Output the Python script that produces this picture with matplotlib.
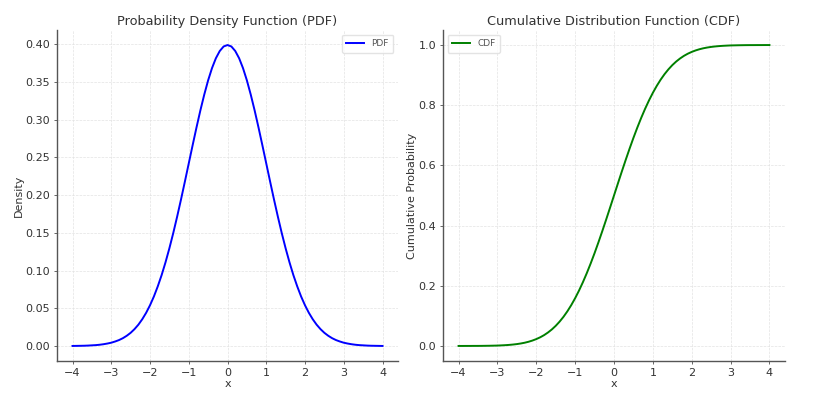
import matplotlib
matplotlib.use("Agg")
import matplotlib.pyplot as plt

x_values = [-4.0, -3.9, -3.8, -3.7, -3.6, -3.5, -3.4, -3.3, -3.2, -3.1,
            -3.0, -2.9, -2.8, -2.7, -2.6, -2.5, -2.4, -2.3, -2.2, -2.1,
            -2.0, -1.9, -1.8, -1.7, -1.6, -1.5, -1.4, -1.3, -1.2, -1.1,
            -1.0, -0.9, -0.8, -0.7, -0.6, -0.5, -0.4, -0.3, -0.2, -0.1,
            0.0, 0.1, 0.2, 0.3, 0.4, 0.5, 0.6, 0.7, 0.8, 0.9,
            1.0, 1.1, 1.2, 1.3, 1.4, 1.5, 1.6, 1.7, 1.8, 1.9,
            2.0, 2.1, 2.2, 2.3, 2.4, 2.5, 2.6, 2.7, 2.8, 2.9,
            3.0, 3.1, 3.2, 3.3, 3.4, 3.5, 3.6, 3.7, 3.8, 3.9, 4.0]

pdf_values = [0.0001, 0.0002, 0.0003, 0.0004, 0.0006, 0.0009, 0.0012, 0.0017, 0.0024, 0.0033,
              0.0044, 0.0060, 0.0079, 0.0104, 0.0136, 0.0175, 0.0224, 0.0283, 0.0355, 0.0440,
              0.0540, 0.0656, 0.0790, 0.0940, 0.1109, 0.1295, 0.1497, 0.1714, 0.1942, 0.2179,
              0.2420, 0.2661, 0.2897, 0.3123, 0.3332, 0.3521, 0.3683, 0.3814, 0.3910, 0.3970,
              0.3989, 0.3970, 0.3910, 0.3814, 0.3683, 0.3521, 0.3332, 0.3123, 0.2897, 0.2661,
              0.2420, 0.2179, 0.1942, 0.1714, 0.1497, 0.1295, 0.1109, 0.0940, 0.0790, 0.0656,
              0.0540, 0.0440, 0.0355, 0.0283, 0.0224, 0.0175, 0.0136, 0.0104, 0.0079, 0.0060,
              0.0044, 0.0033, 0.0024, 0.0017, 0.0012, 0.0009, 0.0006, 0.0004, 0.0003, 0.0002, 0.0001]

cdf_values = [0.0000, 0.0000, 0.0001, 0.0001, 0.0002, 0.0002, 0.0003, 0.0005, 0.0007, 0.0010,
              0.0013, 0.0019, 0.0026, 0.0035, 0.0047, 0.0062, 0.0082, 0.0107, 0.0139, 0.0179,
              0.0228, 0.0287, 0.0359, 0.0446, 0.0548, 0.0668, 0.0808, 0.0968, 0.1151, 0.1357,
              0.1587, 0.1841, 0.2119, 0.2420, 0.2743, 0.3085, 0.3446, 0.3821, 0.4207, 0.4602,
              0.5000, 0.5398, 0.5793, 0.6179, 0.6554, 0.6915, 0.7257, 0.7580, 0.7881, 0.8159,
              0.8413, 0.8643, 0.8849, 0.9032, 0.9192, 0.9332, 0.9452, 0.9554, 0.9641, 0.9713,
              0.9772, 0.9821, 0.9861, 0.9893, 0.9918, 0.9938, 0.9953, 0.9965, 0.9974, 0.9981,
              0.9987, 0.9990, 0.9993, 0.9995, 0.9997, 0.9998, 0.9998, 0.9999, 0.9999, 1.0000, 1.0000]

pdf_yticks = [0.00, 0.05, 0.10, 0.15, 0.20, 0.25, 0.30, 0.35, 0.40]
cdf_yticks = [0.0, 0.2, 0.4, 0.6, 0.8, 1.0]
xticks = [-4, -3, -2, -1, 0, 1, 2, 3, 4]

text_color = "#333333"
spine_color = "#555555"

plt.rcParams["font.family"] = "DejaVu Sans"

fig = plt.figure(figsize=(8.13, 3.94), dpi=100)
W, H = 813, 394
ax1 = fig.add_axes([57 / W, 1 - 361 / H, (398 - 57) / W, (361 - 30) / H])
ax2 = fig.add_axes([443 / W, 1 - 361 / H, (785 - 443) / W, (361 - 30) / H])


def style(ax):
    for s in ["top", "right"]:
        ax.spines[s].set_visible(False)
    for s in ["left", "bottom"]:
        ax.spines[s].set_color(spine_color)
        ax.spines[s].set_linewidth(1.0)
    ax.grid(True, linestyle="--", linewidth=0.5, color="#e0e0e0", alpha=0.9)
    ax.tick_params(colors="#666666", labelcolor=text_color, labelsize=8,
                   length=2.5, width=0.7, pad=2.5)
    ax.set_xticks(xticks)


ax1.plot(x_values, pdf_values, color="blue", linewidth=1.4, label="PDF")
ax1.set_yticks(pdf_yticks)
ax1.set_yticklabels([f"{v:.2f}" for v in pdf_yticks])
style(ax1)
ax1.set_title("Probability Density Function (PDF)", fontsize=9.3, color=text_color, pad=3.5)
ax1.set_xlabel("x", fontsize=8, color=text_color, labelpad=1)
ax1.set_ylabel("Density", fontsize=8, color=text_color, labelpad=1)
leg1 = ax1.legend(loc="upper right", fontsize=6.5, frameon=True, fancybox=True,
                  handlelength=2.0, borderpad=0.5)
leg1.get_frame().set_edgecolor("#dddddd")
for t in leg1.get_texts():
    t.set_color("#555555")

ax2.plot(x_values, cdf_values, color="green", linewidth=1.4, label="CDF")
ax2.set_yticks(cdf_yticks)
ax2.set_yticklabels([f"{v:.1f}" for v in cdf_yticks])
style(ax2)
ax2.set_title("Cumulative Distribution Function (CDF)", fontsize=9.3, color=text_color, pad=3.5)
ax2.set_xlabel("x", fontsize=8, color=text_color, labelpad=1)
ax2.set_ylabel("Cumulative Probability", fontsize=8, color=text_color, labelpad=1)
leg2 = ax2.legend(loc="upper left", fontsize=6.5, frameon=True, fancybox=True,
                  handlelength=2.0, borderpad=0.5)
leg2.get_frame().set_edgecolor("#dddddd")
for t in leg2.get_texts():
    t.set_color("#555555")

fig.savefig("out.png", dpi=100, facecolor="white")
